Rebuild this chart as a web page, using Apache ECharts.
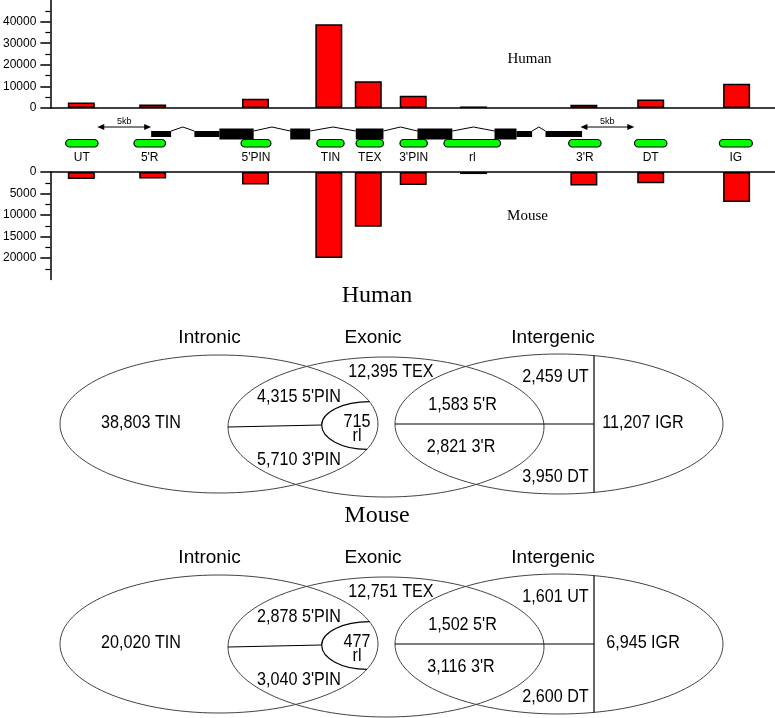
<!DOCTYPE html>
<html><head><meta charset="utf-8">
<script src="https://cdn.jsdelivr.net/npm/echarts@6/dist/echarts.min.js"></script>
<style>html,body{margin:0;padding:0;background:#fff}#chart{width:775px;height:718px}</style>
</head><body><div id="chart"></div>
<script>
// ---------- DATA ----------
const categories = ['UT', "5'R", "5'PIN", 'TIN', 'TEX', "3'PIN", 'rl', "3'R", 'DT', 'IG'];
const humanCounts = [2500, 1600, 4300, 38800, 12400, 5700, 715, 1500, 3950, 11200];
const mouseCounts = [1600, 1500, 2880, 20000, 12750, 3040, 480, 3120, 2600, 6950];
// genomic location of each feature (kb along the locus)
const featureCenterKb = [2.87, 9.49, 19.03, 25.83, 29.49, 33.66, 39.26, 49.49, 55.69, 63.66];
const regionStartKb = [1.42, 7.75, 17.69, 24.72, 28.36, 32.43, 36.51, 48.08, 54.19, 62.06];
const regionEndKb   = [4.42, 10.68, 20.46, 27.25, 30.90, 34.97, 41.76, 51.08, 57.19, 65.12];
// gene model
const exonStartKb = [9.35, 13.36, 15.68, 22.25, 28.33, 34.05, 41.20, 43.24, 45.93];
const exonEndKb   = [11.20, 15.68, 18.86, 24.10, 30.90, 37.29, 43.24, 44.69, 49.32];
const exonCoding  = [0, 0, 1, 1, 1, 1, 1, 0, 0];
const scaleBarStartKb = [4.35, 49.17];
const scaleBarLenKb = 5;
const locusLengthKb = 67.22;
// axes
const humanTicks = [0, 10000, 20000, 30000, 40000];
const mouseTicks = [0, 5000, 10000, 15000, 20000];
// Venn diagrams
const vennSets = ['Intronic', 'Exonic', 'Intergenic'];
const vennRegions = ['TIN', 'TEX', "5'PIN", "3'PIN", 'rl', "5'R", "3'R", 'UT', 'DT', 'IGR'];
const humanVenn = ['38,803', '12,395', '4,315', '5,710', '715', '1,583', '2,821', '2,459', '3,950', '11,207'];
const mouseVenn = ['20,020', '12,751', '2,878', '3,040', '477', '1,502', '3,116', '1,601', '2,600', '6,945'];

// ---------- CHART ----------
const SANS = "'Liberation Sans', Arial, Helvetica, sans-serif";
const SERIF = "'Liberation Serif', 'Times New Roman', serif";
const LINE = { color: '#000', width: 1.5 };

const chart = echarts.init(document.getElementById('chart'));

function yAxisCfg(grid, max, interval, ticks, inverse) {
  return {
    gridIndex: grid, type: 'value', min: 0, max: max, interval: interval, inverse: inverse,
    axisLine: { show: true, lineStyle: LINE },
    axisTick: { show: true, length: 10, customValues: ticks, lineStyle: LINE },
    minorTick: { show: true, splitNumber: 2, length: 5, lineStyle: { color: '#000', width: 1.2 } },
    axisLabel: { customValues: ticks, margin: 14, fontSize: 12, color: '#000', fontFamily: SANS,
      formatter: v => String(v) },
    splitLine: { show: false }, minorSplitLine: { show: false }
  };
}
function xAxisCfg(grid, pos) {
  return {
    gridIndex: grid, type: 'value', min: 0, max: locusLengthKb, position: pos,
    axisLine: { show: true, onZero: true, lineStyle: LINE },
    axisTick: { show: false }, axisLabel: { show: false }, splitLine: { show: false }
  };
}
const barStyle = { color: '#ff0000', borderColor: '#000', borderWidth: 1.5 };

chart.setOption({
  animation: false,
  backgroundColor: '#fff',
  grid: [
    { left: 49, right: 0, top: 0, height: 108 },
    { left: 49, right: 0, top: 172, height: 107.5 }
  ],
  xAxis: [xAxisCfg(0, 'bottom'), xAxisCfg(1, 'top')],
  yAxis: [yAxisCfg(0, 50000, 10000, humanTicks, false), yAxisCfg(1, 25000, 5000, mouseTicks, true)],
  series: [
    { name: 'Human', type: 'bar', xAxisIndex: 0, yAxisIndex: 0, barWidth: 27, itemStyle: barStyle,
      data: featureCenterKb.map((x, i) => [x, humanCounts[i]]) },
    { name: 'Mouse', type: 'bar', xAxisIndex: 1, yAxisIndex: 1, barWidth: 27, itemStyle: barStyle,
      data: featureCenterKb.map((x, i) => [x, mouseCounts[i]]) }
  ]
});

function T(x, y, text, size, family, extra) {
  return Object.assign({
    type: 'text', x: x, y: y, silent: true, z: 10,
    style: { text: text, fill: '#000', fontSize: size, fontFamily: family,
      align: 'center', verticalAlign: 'middle', textAlign: 'center', textVerticalAlign: 'middle' }
  }, extra || {});
}
function L(x1, y1, x2, y2, color, w) {
  return { type: 'line', silent: true, z: 5, shape: { x1, y1, x2, y2 }, style: { stroke: color || '#000', lineWidth: w || 1.2 } };
}

function buildGraphics() {
  const px = kb => chart.convertToPixel({ xAxisIndex: 0 }, kb);
  const g = [];
  // panel labels
  g.push(T(529.5, 59, 'Human', 15, SERIF));
  g.push(T(527.5, 216, 'Mouse', 15, SERIF));

  // gene model
  const midY = 134;
  for (let i = 0; i < exonStartKb.length; i++) {
    const x1 = px(exonStartKb[i]), x2 = px(exonEndKb[i]);
    const h = exonCoding[i] ? 11 : 6;
    g.push({ type: 'rect', silent: true, z: 6, shape: { x: x1, y: midY - h / 2, width: x2 - x1, height: h }, style: { fill: '#000' } });
    if (i > 0 && exonStartKb[i] > exonEndKb[i - 1] + 0.01) {
      const a = px(exonEndKb[i - 1]), b = x1;
      g.push({ type: 'polyline', silent: true, z: 5, shape: { points: [[a, 131], [(a + b) / 2, 127], [b, 131]] }, style: { stroke: '#000', lineWidth: 1, fill: 'none' } });
    }
  }
  // 5kb scale bars
  scaleBarStartKb.forEach(s => {
    const a = px(s), b = px(s + scaleBarLenKb), y = 127;
    g.push(L(a + 4, y, b - 4, y, '#000', 1));
    g.push({ type: 'polygon', silent: true, z: 6, shape: { points: [[a, y], [a + 7, y - 3], [a + 7, y + 3]] }, style: { fill: '#000' } });
    g.push({ type: 'polygon', silent: true, z: 6, shape: { points: [[b, y], [b - 7, y - 3], [b - 7, y + 3]] }, style: { fill: '#000' } });
    g.push(T((a + b) / 2, 121.5, '5kb', 9, SANS));
  });
  // regions (green pills) and labels
  categories.forEach((c, i) => {
    const a = px(regionStartKb[i]), b = px(regionEndKb[i]);
    g.push({ type: 'rect', silent: true, z: 6, shape: { x: a, y: 139.5, width: b - a, height: 7.5, r: 3.75 }, style: { fill: '#00ff00', stroke: '#000', lineWidth: 1.2 } });
    g.push(T((a + b) / 2, 157.5, c, 12, SANS));
  });

  // Venn diagrams
  vennDiagram(g, 0, 'Human', humanVenn);
  vennDiagram(g, 220, 'Mouse', mouseVenn);
  return g;
}

const VL = {
  setPos: [[209.5, 338], [373, 338], [553, 338]],
  ell: [[219, 424, 159, 69], [386, 427, 158, 70], [559, 424, 164, 70]],
  regionPos: {
    'TIN': [141, 423], 'TEX': [391, 372], "5'PIN": [299, 397], "3'PIN": [299, 460], 'rl': [357, 429],
    "5'R": [462.5, 405], "3'R": [461, 447], 'UT': [555.5, 377], 'DT': [555.5, 477], 'IGR': [643, 423]
  },
  vline: 594
};
function ellX(e, y, side, dy) {
  const t = (y - (e[1] + dy)) / e[3];
  return e[0] + side * e[2] * Math.sqrt(Math.max(0, 1 - t * t));
}
function ellY(e, x, side, dy) {
  const t = (x - e[0]) / e[2];
  return e[1] + dy + side * e[3] * Math.sqrt(Math.max(0, 1 - t * t));
}
function vennDiagram(g, dy, title, counts) {
  g.push(T(377, 296 + dy, title, 24, SERIF));
  vennSets.forEach((s, i) => g.push(T(VL.setPos[i][0], VL.setPos[i][1] + dy, s, 19, SANS)));
  VL.ell.forEach(e => g.push({ type: 'ellipse', silent: true, z: 4, shape: { cx: e[0], cy: e[1] + dy, rx: e[2], ry: e[3] }, style: { fill: 'none', stroke: '#444', lineWidth: 1 } }));
  const [eIn, eEx, eIg] = VL.ell;
  // 5'PIN / 3'PIN separator and rl lobe
  const tipX = 321.7, tipY = 425 + dy;
  g.push(L(ellX(eEx, 427 + dy, -1, dy), 427 + dy, tipX, tipY));
  const topY = 401.7 + dy, botY = 449.3 + dy;
  const topX = ellX(eIn, topY, 1, dy), botX = ellX(eIn, botY, 1, dy);
  const k = 0.5523;
  g.push({ type: 'bezierCurve', silent: true, z: 5, shape: { x1: tipX, y1: tipY, cpx1: tipX, cpy1: tipY - k * (tipY - topY), cpx2: topX - k * (topX - tipX), cpy2: topY, x2: topX, y2: topY }, style: { stroke: '#000', lineWidth: 1.2, fill: 'none' } });
  g.push({ type: 'bezierCurve', silent: true, z: 5, shape: { x1: tipX, y1: tipY, cpx1: tipX, cpy1: tipY + k * (botY - tipY), cpx2: botX - k * (botX - tipX), cpy2: botY, x2: botX, y2: botY }, style: { stroke: '#000', lineWidth: 1.2, fill: 'none' } });
  // 5'R / 3'R separator
  g.push(L(eIg[0] - eIg[2], eIg[1] + dy, VL.vline, eIg[1] + dy));
  // vertical IGR separator
  g.push(L(VL.vline, ellY(eIg, VL.vline, -1, dy), VL.vline, ellY(eIg, VL.vline, 1, dy)));
  // region counts
  vennRegions.forEach((r, i) => {
    const p = VL.regionPos[r];
    const label = r === 'rl' ? counts[i] + '\nrl' : counts[i] + ' ' + r;
    const el = T(p[0], p[1] + dy, label, 19, SANS, { scaleX: 0.85 });
    el.style.lineHeight = 14;
    g.push(el);
  });
}

chart.setOption({ graphic: { elements: buildGraphics() } });
</script>
</body></html>
